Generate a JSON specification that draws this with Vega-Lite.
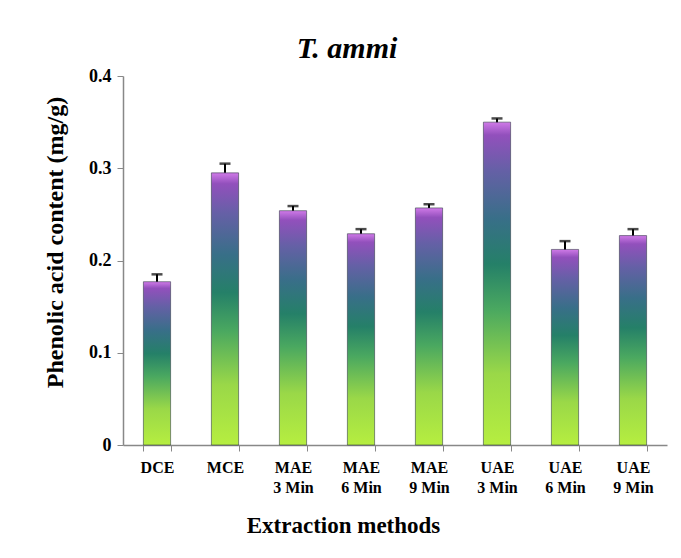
{
  "$schema": "https://vega.github.io/schema/vega-lite/v6.json",
  "width": 544,
  "height": 369,
  "autosize": {"type": "none"},
  "padding": {"left": 123, "top": 76, "right": 14, "bottom": 113},
  "background": "white",
  "title": {
    "text": "T. ammi",
    "font": "Liberation Serif",
    "fontSize": 30,
    "fontWeight": "bold",
    "fontStyle": "italic",
    "color": "black",
    "anchor": "middle",
    "dx": -48,
    "offset": 3
  },
  "data": {
    "values": [
      {"method": "DCE", "content": 0.177, "sd": 0.008},
      {"method": "MCE", "content": 0.295, "sd": 0.010},
      {"method": "MAE 3 Min", "content": 0.254, "sd": 0.005},
      {"method": "MAE 6 Min", "content": 0.229, "sd": 0.005},
      {"method": "MAE 9 Min", "content": 0.257, "sd": 0.004},
      {"method": "UAE 3 Min", "content": 0.350, "sd": 0.004},
      {"method": "UAE 6 Min", "content": 0.212, "sd": 0.009},
      {"method": "UAE 9 Min", "content": 0.227, "sd": 0.007}
    ]
  },
  "encoding": {
    "x": {
      "field": "method",
      "type": "nominal",
      "sort": null,
      "scale": {"paddingInner": 0.6, "paddingOuter": 0.3},
      "axis": {
        "title": "Extraction methods",
        "labelAngle": 0,
        "labelExpr": "length(datum.label) > 3 ? [substring(datum.label, 0, 3), substring(datum.label, 4)] : datum.label",
        "labelLineHeight": 20,
        "labelFont": "Liberation Serif",
        "labelFontSize": 16,
        "labelFontWeight": "bold",
        "labelColor": "black",
        "labelPadding": 8,
        "tickBand": "extent",
        "tickSize": 6,
        "tickColor": "#888888",
        "domainColor": "#888888",
        "domainWidth": 1.5,
        "titleFont": "Liberation Serif",
        "titleFontSize": 23,
        "titleFontWeight": "bold",
        "titleColor": "black",
        "titleBaseline": "alphabetic",
        "titleX": 220,
        "titleY": 87
      }
    }
  },
  "layer": [
    {
      "mark": {"type": "errorbar", "ticks": {"size": 11, "thickness": 2.5, "color": "black"}, "rule": {"strokeWidth": 2, "color": "black"}},
      "encoding": {
        "y": {"field": "content", "type": "quantitative", "title": "Phenolic acid content (mg/g)"},
        "yError": {"field": "sd"}
      }
    },
    {
      "mark": {
        "type": "bar",
        "stroke": "#2a3340",
        "strokeWidth": 1,
        "strokeOpacity": 0.55,
        "color": {
          "gradient": "linear",
          "x1": 0, "y1": 1, "x2": 0, "y2": 0,
          "stops": [
            {"offset": 0, "color": "#b6ee40"},
            {"offset": 0.22, "color": "#9ad848"},
            {"offset": 0.42, "color": "#4aa860"},
            {"offset": 0.56, "color": "#258068"},
            {"offset": 0.7, "color": "#386f88"},
            {"offset": 0.85, "color": "#6560a6"},
            {"offset": 0.96, "color": "#9250bc"},
            {"offset": 1, "color": "#d07ae8"}
          ]
        }
      },
      "encoding": {
        "y": {
          "field": "content",
          "type": "quantitative",
          "title": "Phenolic acid content (mg/g)",
          "scale": {"domain": [0, 0.4]},
          "axis": {
            "values": [0, 0.1, 0.2, 0.3, 0.4],
            "labelExpr": "datum.value == 0 ? '0' : format(datum.value, '.1f')",
            "grid": false,
            "labelFont": "Liberation Serif",
            "labelFontSize": 18,
            "labelFontWeight": "bold",
            "labelColor": "black",
            "labelPadding": 6,
            "tickSize": 6,
            "tickColor": "#888888",
            "domainColor": "#888888",
            "domainWidth": 1.5,
            "titleFont": "Liberation Serif",
            "titleFontSize": 24,
            "titleFontWeight": "bold",
            "titleColor": "black",
            "titlePadding": 21,
            "titleY": 166
          }
        }
      }
    }
  ],
  "config": {
    "view": {"stroke": null}
  }
}
